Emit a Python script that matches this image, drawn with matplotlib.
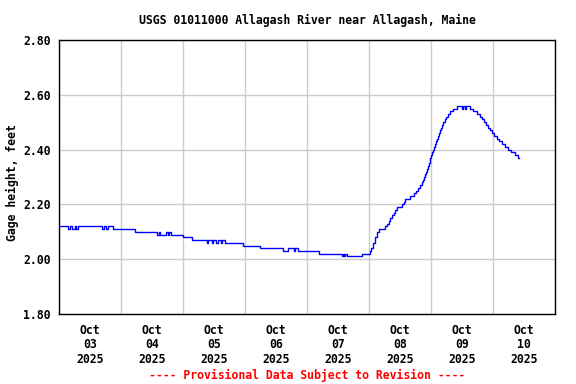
import pandas as pd
import matplotlib
matplotlib.use("Agg")
import matplotlib.pyplot as plt

# gage height readings, hours after 2025-10-03 00:00 (step changes only)
hours = [
    0, 3.5, 4.3, 5.0, 6.2, 6.6, 7.4, 16.6, 17.4, 18.2, 19.0, 20.9,
    29.4, 37.9, 38.7, 39.1, 41.4, 42.2, 42.6, 43.4, 48.0, 51.5,
    57.3, 57.7, 59.2, 59.6, 60.8, 61.5, 62.7, 63.1, 64.3, 71.2, 77.8,
    86.7, 88.6, 91.0, 91.4, 92.5, 100.6, 109.5, 109.9, 110.3, 110.7, 111.5,
    117.3, 120.4, 120.8, 121.5, 122.3, 123.1, 123.9, 126.2, 127.0, 127.7,
    128.1, 128.9, 129.7, 130.1, 130.8, 132.8, 133.5, 133.9, 135.9, 137.4,
    138.2, 139.0, 139.7, 140.5, 140.9, 141.3, 141.7, 142.1, 142.5, 142.8,
    143.2, 143.6, 144.0, 144.4, 144.8, 145.2, 145.5, 145.9, 146.3, 146.7,
    147.1, 147.5, 147.9, 148.3, 148.6, 149.4, 149.8, 150.6, 151.4, 152.5,
    154.1, 156.0, 156.4, 157.2, 157.5, 159.1, 160.3, 161.8, 163.0, 163.7,
    164.5, 165.3, 166.1, 166.8, 167.6, 168.4, 169.5, 170.3, 171.5, 172.6,
    173.8, 175.0, 176.5, 177.7, 178.1,
]
gage = [
    2.12, 2.11, 2.12, 2.11, 2.12, 2.11, 2.12, 2.11, 2.12, 2.11, 2.12, 2.11,
    2.10, 2.09, 2.10, 2.09, 2.10, 2.09, 2.10, 2.09, 2.08, 2.07,
    2.06, 2.07, 2.06, 2.07, 2.06, 2.07, 2.06, 2.07, 2.06, 2.05, 2.04,
    2.03, 2.04, 2.03, 2.04, 2.03, 2.02, 2.01, 2.02, 2.01, 2.02, 2.01,
    2.02, 2.03, 2.04, 2.06, 2.08, 2.10, 2.11, 2.12, 2.13, 2.14,
    2.15, 2.16, 2.17, 2.18, 2.19, 2.20, 2.21, 2.22, 2.23, 2.24,
    2.25, 2.26, 2.27, 2.28, 2.29, 2.30, 2.31, 2.32, 2.33, 2.34,
    2.35, 2.37, 2.38, 2.39, 2.40, 2.41, 2.42, 2.43, 2.44, 2.45,
    2.46, 2.47, 2.48, 2.49, 2.50, 2.51, 2.52, 2.53, 2.54, 2.55,
    2.56, 2.55, 2.56, 2.55, 2.56, 2.55, 2.54, 2.53, 2.52, 2.51,
    2.50, 2.49, 2.48, 2.47, 2.46, 2.45, 2.44, 2.43, 2.42, 2.41,
    2.40, 2.39, 2.38, 2.37, 2.37,
]
day_labels = ["03", "04", "05", "06", "07", "08", "09", "10"]
yticks = [1.80, 2.00, 2.20, 2.40, 2.60, 2.80]

start = pd.Timestamp("2025-10-03")
times = start + pd.to_timedelta(hours, unit="h")

mono = "DejaVu Sans Mono"
fs = 8.3

fig = plt.figure(figsize=(5.76, 3.84), dpi=100)
ax = fig.add_axes([59 / 576, 70 / 384, 496 / 576, 274 / 384])

ax.plot(times, gage, drawstyle="steps-post", color="#0000ff", lw=1.0, zorder=3)

midnights = [start + pd.Timedelta(days=i) for i in range(9)]
noons = [start + pd.Timedelta(days=i, hours=12) for i in range(8)]
ax.set_xlim(midnights[0], midnights[-1])
ax.set_xticks(midnights)
ax.set_xticklabels([])
ax.set_xticks(noons, minor=True)
ax.set_xticklabels(["Oct\n%s\n2025" % d for d in day_labels], minor=True,
                   family=mono, weight="bold", fontsize=fs, linespacing=1.15)

ax.set_ylim(1.80, 2.80)
ax.set_yticks(yticks)
ax.set_yticklabels(["%.2f" % v for v in yticks], family=mono, weight="bold", fontsize=fs)

ax.tick_params(which="both", length=0)
ax.tick_params(axis="x", which="minor", pad=7)
ax.tick_params(axis="y", pad=6)
ax.grid(True, which="major", color="#cccccc", lw=1.0)
for s in ax.spines.values():
    s.set_linewidth(1.0)
    s.set_color("black")

ax.set_title("USGS 01011000 Allagash River near Allagash, Maine",
             family=mono, weight="bold", fontsize=fs, pad=11.5)
fig.text(12 / 576, 1 - 183 / 384, "Gage height, feet", rotation=90,
         family=mono, weight="bold", fontsize=fs, ha="center", va="center")
fig.text(307 / 576, 1 - 375 / 384, "---- Provisional Data Subject to Revision ----",
         family=mono, weight="bold", fontsize=fs, color="red", ha="center", va="center")

fig.savefig("out.png", dpi=100)
